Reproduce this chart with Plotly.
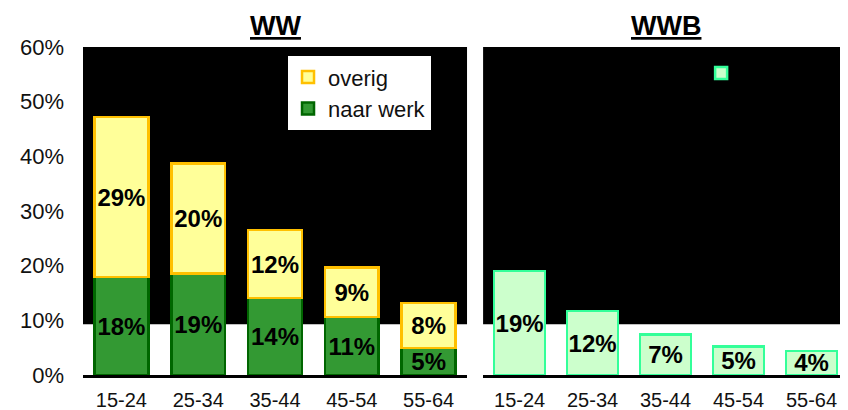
import plotly.graph_objects as go
from plotly.subplots import make_subplots

# age groups on the x axis
categories = ["15-24", "25-34", "35-44", "45-54", "55-64"]

# WW: share that went to work and the rest (stacked)
ww_naar_werk = [0.179, 0.186, 0.141, 0.106, 0.049]
ww_overig = [0.293, 0.201, 0.124, 0.091, 0.083]

# WWB: single series
wwb_values = [0.190, 0.117, 0.074, 0.052, 0.044]

y_ticks = [0, 0.1, 0.2, 0.3, 0.4, 0.5, 0.6]

FONT = "Arial, Liberation Sans, sans-serif"

fig = make_subplots(rows=1, cols=2)

label_font = dict(family=FONT, size=24, color="black", weight="bold")

fig.add_trace(go.Bar(
    x=categories, y=ww_naar_werk, name="naar werk",
    marker=dict(color="#339933", line=dict(color="#006600", width=2.5)),
    texttemplate="%{y:.0%}", textposition="inside", insidetextanchor="middle",
    textangle=0, constraintext="none", textfont=label_font,
    legend="legend",
), row=1, col=1)

fig.add_trace(go.Bar(
    x=categories, y=ww_overig, name="overig",
    marker=dict(color="#FFFF99", line=dict(color="#FFC000", width=2.5)),
    texttemplate="%{y:.0%}", textposition="inside", insidetextanchor="middle",
    textangle=0, constraintext="none", textfont=label_font,
    legend="legend",
), row=1, col=1)

fig.add_trace(go.Bar(
    x=categories, y=wwb_values, name=" ",
    marker=dict(color="#CCFFCC", line=dict(color="#33FF99", width=2.5)),
    texttemplate="%{y:.0%}", textposition="inside", insidetextanchor="middle",
    textangle=0, constraintext="none", textfont=label_font,
    legend="legend2",
), row=1, col=2)

# black backdrop in each panel above ~9.3%
for ax in ["x", "x2"]:
    fig.add_shape(type="rect", xref=f"{ax} domain", yref="y" if ax == "x" else "y2",
                  x0=0, x1=1, y0=0.093, y1=0.6, fillcolor="black",
                  line=dict(width=0), layer="below")

fig.update_xaxes(showline=True, linecolor="black", linewidth=3, showgrid=False,
                 ticks="", tickfont=dict(family=FONT, size=20, color="#111"),
                 ticklabelstandoff=5, automargin=False)
fig.update_yaxes(range=[0, 0.6], tickvals=y_ticks, tickformat=".0%",
                 showgrid=False, zeroline=False, showline=False,
                 tickfont=dict(family=FONT, size=22, color="#111"),
                 ticklabelstandoff=18, automargin=False)
fig.update_yaxes(showticklabels=False, row=1, col=2)
fig.update_layout(xaxis=dict(domain=[0, 0.502]), xaxis2=dict(domain=[0.523, 1]))

titles = [("<b><u>WW</u></b>", "x domain"), ("<b><u>WWB</u></b>", "x2 domain")]
for text, xref in titles:
    fig.add_annotation(text=text, xref=xref, yref="paper", x=0.5, y=1.064,
                       showarrow=False, yanchor="middle",
                       font=dict(family=FONT, size=27, color="black"))

# page has an 8px body margin, so the figure is 8px smaller each way
fig.update_layout(
    width=840, height=402,
    margin=dict(l=75, r=0, t=39, b=35),
    paper_bgcolor="white", plot_bgcolor="white",
    barmode="stack", bargap=0.3,
    showlegend=True,
    legend=dict(x=0.268, y=0.972, xanchor="left", yanchor="top",
                bgcolor="white", traceorder="reversed",
                font=dict(family=FONT, size=22, color="#111")),
    legend2=dict(x=0.808, y=0.965, xanchor="left", yanchor="top",
                 bgcolor="rgba(0,0,0,0)",
                 font=dict(family=FONT, size=10, color="black")),
)

fig.write_html("out.html")
